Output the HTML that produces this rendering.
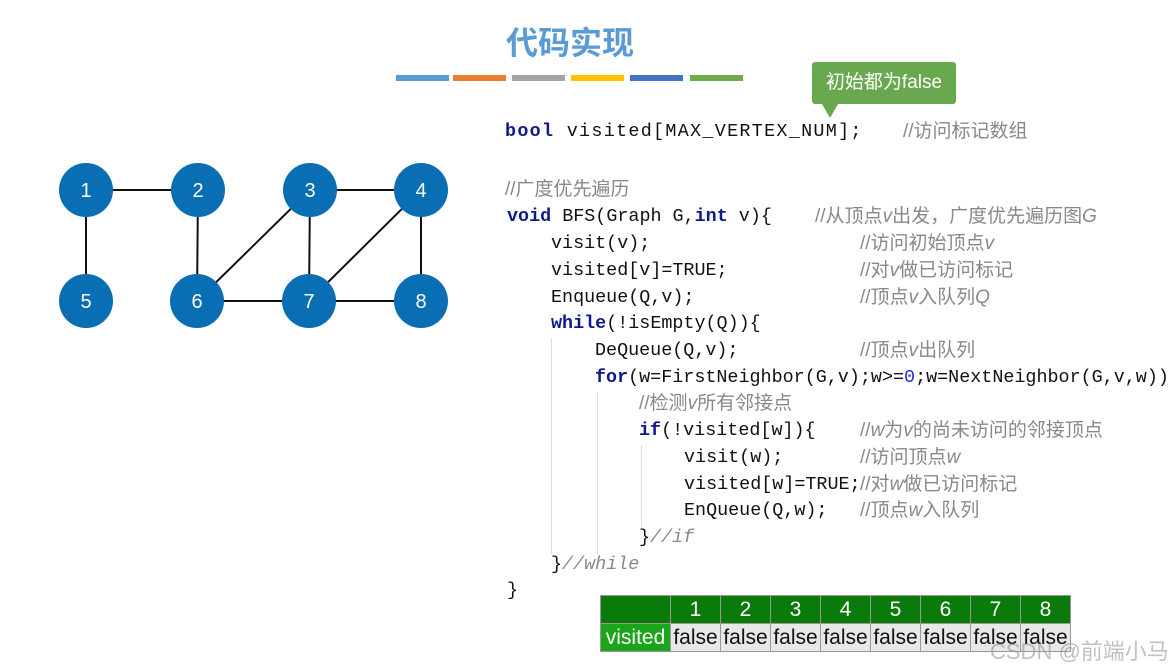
<!DOCTYPE html>
<html><head><meta charset="utf-8"><style>
body{margin:0;width:1169px;height:666px;background:#fff;position:relative;overflow:hidden;font-family:"Liberation Sans","Noto Sans CJK SC",sans-serif}
.c{position:absolute;font-family:"Liberation Mono","Noto Sans CJK SC",monospace;font-size:18.4px;color:#111;white-space:pre;line-height:22px}
.k{color:#0d1a8c;font-weight:bold}
.m{position:absolute;font-family:"Liberation Sans","Noto Sans CJK SC",sans-serif;font-size:19px;color:#888;white-space:pre;line-height:22px}
.m i{font-style:italic}
.bar{position:absolute;top:75px;height:6px;width:53px}
.vl{position:absolute;width:1px;background:#ddd}
table{position:absolute;left:600px;top:595px;border-collapse:collapse;font-size:21px}
td{border:1px solid #999;height:27px;padding:0;text-align:center;line-height:27px}
</style></head><body>
<div style="position:absolute;left:0;width:1140px;top:18px;text-align:center;font-size:32px;font-weight:bold;color:#5b9bd5">代码实现</div>
<div class="bar" style="left:396px;background:#5b9bd5"></div>
<div class="bar" style="left:453px;background:#ed7d31"></div>
<div class="bar" style="left:512px;background:#a5a5a5"></div>
<div class="bar" style="left:571px;background:#ffc000"></div>
<div class="bar" style="left:630px;background:#4472c4"></div>
<div class="bar" style="left:690px;background:#70ad47"></div>
<div style="position:absolute;left:812px;top:62px;width:144px;height:42px;background:#6aa84f;border-radius:3px;color:#fff;font-size:19px;line-height:42px;text-align:center">初始都为false</div>
<div style="position:absolute;left:822px;top:104px;border-left:8px solid transparent;border-right:8px solid transparent;border-top:14px solid #6aa84f"></div>

<svg style="position:absolute;left:0;top:0" width="480" height="360">
<g stroke="#111" stroke-width="2">
<line x1="86" y1="190" x2="198" y2="190"/><line x1="86" y1="190" x2="86" y2="301"/>
<line x1="198" y1="190" x2="197" y2="301"/><line x1="310" y1="190" x2="197" y2="301"/>
<line x1="310" y1="190" x2="309" y2="301"/><line x1="310" y1="190" x2="421" y2="190"/>
<line x1="421" y1="190" x2="309" y2="301"/><line x1="421" y1="190" x2="421" y2="301"/>
<line x1="197" y1="301" x2="421" y2="301"/></g>
<g fill="#0a6eb4"><circle cx="86" cy="190" r="27"/><circle cx="198" cy="190" r="27"/><circle cx="310" cy="190" r="27"/><circle cx="421" cy="190" r="27"/><circle cx="86" cy="301" r="27"/><circle cx="197" cy="301" r="27"/><circle cx="309" cy="301" r="27"/><circle cx="421" cy="301" r="27"/></g>
<g fill="#fff" font-family="Liberation Sans" font-size="20" text-anchor="middle">
<text x="86" y="197">1</text><text x="198" y="197">2</text><text x="310" y="197">3</text><text x="421" y="197">4</text><text x="86" y="308">5</text><text x="197" y="308">6</text><text x="309" y="308">7</text><text x="421" y="308">8</text></g>
</svg>

<div class="vl" style="left:551px;top:338px;height:216px"></div>
<div class="vl" style="left:597px;top:392px;height:162px"></div>
<div class="vl" style="left:641px;top:445px;height:82px"></div>

<div class="c" style="left:505px;top:121px;letter-spacing:1.3px"><span class="k">bool</span> visited[MAX_VERTEX_NUM];</div>
<div class="m" style="left:903px;top:121px">//访问标记数组</div>
<div class="m" style="left:505px;top:179px">//广度优先遍历</div>
<div class="c" style="left:507px;top:206px"><span class="k">void</span> BFS(Graph G,<span class="k">int</span> v){</div>
<div class="m" style="left:815px;top:206px">//从顶点<i>v</i>出发，广度优先遍历图<i>G</i></div>
<div class="c" style="left:551px;top:233px">visit(v);</div><div class="m" style="left:860px;top:233px">//访问初始顶点<i>v</i></div>
<div class="c" style="left:551px;top:260px">visited[v]=TRUE;</div><div class="m" style="left:860px;top:260px">//对<i>v</i>做已访问标记</div>
<div class="c" style="left:551px;top:287px">Enqueue(Q,v);</div><div class="m" style="left:860px;top:287px">//顶点<i>v</i>入队列<i>Q</i></div>
<div class="c" style="left:551px;top:313px"><span class="k">while</span>(!isEmpty(Q)){</div>
<div class="c" style="left:595px;top:340px">DeQueue(Q,v);</div><div class="m" style="left:860px;top:340px">//顶点<i>v</i>出队列</div>
<div class="c" style="left:595px;top:367px"><span class="k">for</span>(w=FirstNeighbor(G,v);w&gt;=<span style="color:#1c2fd0">0</span>;w=NextNeighbor(G,v,w))</div>
<div class="m" style="left:639px;top:393px">//检测<i>v</i>所有邻接点</div>
<div class="c" style="left:639px;top:420px"><span class="k">if</span>(!visited[w]){</div><div class="m" style="left:860px;top:420px">//<i>w</i>为<i>v</i>的尚未访问的邻接顶点</div>
<div class="c" style="left:684px;top:447px">visit(w);</div><div class="m" style="left:860px;top:447px">//访问顶点<i>w</i></div>
<div class="c" style="left:684px;top:474px">visited[w]=TRUE;</div><div class="m" style="left:860px;top:474px">//对<i>w</i>做已访问标记</div>
<div class="c" style="left:684px;top:500px">EnQueue(Q,w);</div><div class="m" style="left:860px;top:500px">//顶点<i>w</i>入队列</div>
<div class="c" style="left:639px;top:527px">}<span style="color:#888;font-style:italic">//if</span></div>
<div class="c" style="left:551px;top:554px">}<span style="color:#888;font-style:italic">//while</span></div>
<div class="c" style="left:507px;top:580px">}</div>

<table>
<tr style="background:#0a7a0a;color:#fff"><td style="width:69px"></td><td style="width:49px">1</td><td style="width:49px">2</td><td style="width:49px">3</td><td style="width:49px">4</td><td style="width:49px">5</td><td style="width:49px">6</td><td style="width:49px">7</td><td style="width:49px">8</td></tr>
<tr style="background:#e8e8e8;color:#111"><td style="background:#1aa51a;color:#fff">visited</td><td>false</td><td>false</td><td>false</td><td>false</td><td>false</td><td>false</td><td>false</td><td>false</td></tr>
</table>
<div style="position:absolute;left:990px;top:634px;font-size:22px;color:rgba(150,150,150,0.6)">CSDN @前端小马</div>
</body></html>
